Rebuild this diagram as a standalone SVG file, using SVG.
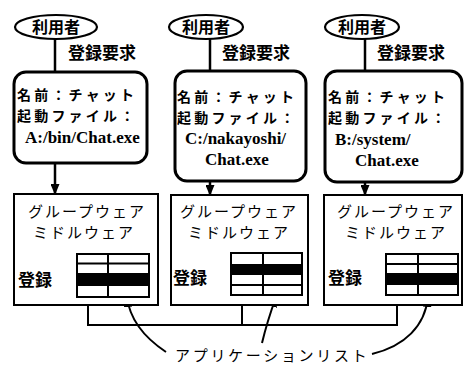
<svg xmlns="http://www.w3.org/2000/svg" width="464" height="365" viewBox="0 0 464 365">
<defs>
<marker id="ah" markerUnits="userSpaceOnUse" markerWidth="11" markerHeight="9" refX="10" refY="4.5" orient="auto">
<path d="M0,0 L11,4.5 L0,9 z" fill="#000"/>
</marker>
<style>
.ell{fill:#fff;stroke:#000;stroke-width:2.2}
.rb{fill:#fff;stroke:#000;stroke-width:3}
.gw{fill:#fff;stroke:#000;stroke-width:2}
.tb{fill:#fff;stroke:#000;stroke-width:2}
.ln{fill:none;stroke:#000;stroke-width:2}
.lnt{fill:none;stroke:#000;stroke-width:2.5}
.jb{font-family:"Noto Sans CJK JP",sans-serif;font-weight:bold;font-size:16px;fill:#000}
.jm{font-family:"Noto Sans CJK JP",sans-serif;font-weight:bold;font-size:14px;fill:#000}
.jr{font-family:"Noto Sans CJK JP",sans-serif;font-weight:normal;font-size:15px;fill:#000}
.lt{font-family:"Liberation Serif",serif;font-weight:bold;font-size:17px;fill:#000}
</style>
</defs>
<rect width="464" height="365" fill="#fff"/>

<g id="connectors">
<line class="lnt" x1="55" y1="39" x2="55" y2="72"/>
<line class="lnt" x1="210" y1="39" x2="210" y2="71"/>
<line class="lnt" x1="365" y1="39" x2="365" y2="71"/>
<line class="lnt" x1="55" y1="163" x2="55" y2="194" marker-end="url(#ah)"/>
<line class="lnt" x1="210" y1="181" x2="210" y2="195" marker-end="url(#ah)"/>
<line class="lnt" x1="365" y1="182" x2="365" y2="195" marker-end="url(#ah)"/>
<path class="lnt" d="M57,242 L57,264 Q57,279 68,279.5 L77,279.5" marker-end="url(#ah)"/>
<path class="lnt" d="M212,243 L212,254 Q212,269 224,269.5 L231,269.5" marker-end="url(#ah)"/>
<path class="lnt" d="M367,242 L367,263 Q367,278 378,279 L386,279" marker-end="url(#ah)"/>
<path class="ln" d="M88,305 L88,325 L397,325 L397,305 M242,305 L242,325"/>
<path class="ln" d="M166,352 C148,340 130,322 127,297" marker-end="url(#ah)"/>
<path class="ln" d="M262,343 Q267,322 276,297" marker-end="url(#ah)"/>
<path class="ln" d="M372,354 C405,346 425,326 428,297" marker-end="url(#ah)"/>
</g>

<g id="user1">
<ellipse class="ell" cx="56" cy="27" rx="41" ry="12"/>
<text class="jb" x="56" y="33" text-anchor="middle">利用者</text>
</g>
<g id="user2">
<ellipse class="ell" cx="206" cy="27" rx="37" ry="12"/>
<text class="jb" x="206" y="33" text-anchor="middle">利用者</text>
</g>
<g id="user3">
<ellipse class="ell" cx="362" cy="27" rx="37" ry="12"/>
<text class="jb" x="362" y="33" text-anchor="middle">利用者</text>
</g>

<g id="req1"><text class="jb" x="68" y="59" style="font-size:17px">登録要求</text></g>
<g id="req2"><text class="jb" x="222" y="59" style="font-size:17px">登録要求</text></g>
<g id="req3"><text class="jb" x="377" y="59" style="font-size:17px">登録要求</text></g>

<g id="app1">
<rect class="rb" x="14" y="72" width="133" height="91" rx="12"/>
<text class="jm" x="17" y="100" letter-spacing="3.2">名前：チャット</text>
<text class="jm" x="17" y="121" letter-spacing="3.2">起動ファイル：</text>
<text class="lt" x="25" y="143">A:/bin/Chat.exe</text>
</g>
<g id="app2">
<rect class="rb" x="175" y="71" width="131" height="110" rx="12"/>
<text class="jm" x="177" y="102" letter-spacing="3.2">名前：チャット</text>
<text class="jm" x="177" y="123" letter-spacing="3.2">起動ファイル：</text>
<text class="lt" x="185" y="144">C:/nakayoshi/</text>
<text class="lt" x="205" y="165">Chat.exe</text>
</g>
<g id="app3">
<rect class="rb" x="325" y="71" width="137" height="111" rx="12"/>
<text class="jm" x="328" y="102" letter-spacing="3.2">名前：チャット</text>
<text class="jm" x="328" y="123" letter-spacing="3.2">起動ファイル：</text>
<text class="lt" x="335" y="145">B:/system/</text>
<text class="lt" x="355" y="166">Chat.exe</text>
</g>

<g id="gw1">
<rect class="gw" x="14" y="194" width="144" height="111"/>
<text class="jr" x="87" y="217" text-anchor="middle" letter-spacing="2">グループウェア</text>
<text class="jr" x="84" y="238" text-anchor="middle" letter-spacing="2">ミドルウェア</text>
<text class="jb" x="18" y="286" style="font-size:17px">登録</text>
<rect class="tb" x="77" y="254" width="72" height="43"/>
<rect x="77" y="273" width="72" height="13" fill="#000"/>
<path class="ln" d="M77,263.5 H149 M108,254 V297"/>
</g>
<g id="gw2">
<rect class="gw" x="171" y="195" width="137" height="110"/>
<text class="jr" x="239" y="217" text-anchor="middle" letter-spacing="2">グループウェア</text>
<text class="jr" x="239" y="238" text-anchor="middle" letter-spacing="2">ミドルウェア</text>
<text class="jb" x="173" y="284" style="font-size:17px">登録</text>
<rect class="tb" x="231" y="253" width="71" height="42"/>
<rect x="231" y="264" width="71" height="11" fill="#000"/>
<path class="ln" d="M231,285 H302 M263,253 V295"/>
</g>
<g id="gw3">
<rect class="gw" x="324" y="195" width="138" height="110"/>
<text class="jr" x="396" y="217" text-anchor="middle" letter-spacing="2">グループウェア</text>
<text class="jr" x="396" y="238" text-anchor="middle" letter-spacing="2">ミドルウェア</text>
<text class="jb" x="328" y="284" style="font-size:17px">登録</text>
<rect class="tb" x="386" y="254" width="72" height="41"/>
<rect x="386" y="273" width="72" height="12" fill="#000"/>
<path class="ln" d="M386,264 H458 M418,254 V295"/>
</g>

<g id="applist">
<text class="jr" x="175" y="361" letter-spacing="2.7">アプリケーションリスト</text>
</g>
</svg>
